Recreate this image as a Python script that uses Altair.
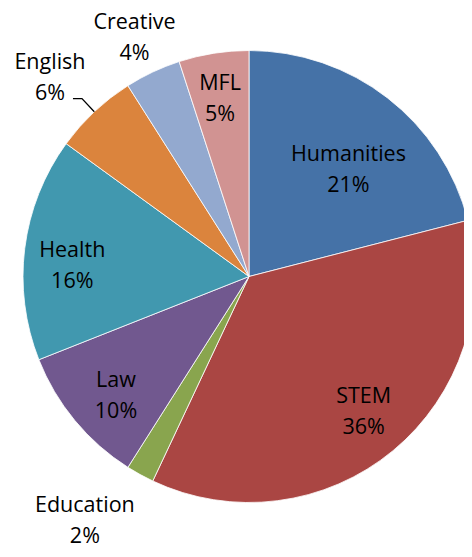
import math
import altair as alt
import pandas as pd

# ---- data ----
categories = ["Humanities", "STEM", "Education", "Law", "Health", "English", "Creative", "MFL"]
shares = [21, 36, 2, 10, 16, 6, 4, 5]
colors = ["#4572A7", "#AA4643", "#89A54E", "#71588F", "#4198AF", "#DB843D", "#93A9CF", "#D19392"]

# ---- layout (pixels) ----
CX, CY, R = 241, 268.5, 226
label_radius = {"Humanities": 145, "STEM": 178, "Education": 295, "Law": 179,
                "Health": 177, "English": 281, "Creative": 264, "MFL": 179}
label_nudge_deg = {"Humanities": 5.5, "STEM": -0.5, "Education": 5.0, "Law": -2.4,
                   "Health": -4.0, "English": -1.9, "Creative": -0.5, "MFL": -0.3}
LEADER_OUT = 18
LEADER_ELBOW = 9
FONT = "Open Sans"
FONT_SIZE = 21.5
LINE_H = 31

df = pd.DataFrame({"category": categories, "share": shares, "idx": list(range(len(categories)))})
total = df["share"].sum()
df["cum_end"] = df["share"].cumsum()
df["mid_deg"] = (df["cum_end"] - df["share"] / 2) / total * 360
df["label_deg"] = df["mid_deg"] + df["category"].map(label_nudge_deg)
df["label_r"] = df["category"].map(label_radius)
df["label"] = df["category"] + "\n" + df["share"].astype(str) + "%"

# leader line for English (outside label), derived from the slice's mid angle
eng = df[df["category"] == "English"].iloc[0]
a = math.radians(eng["mid_deg"])
p1 = (CX + R * math.sin(a), CY - R * math.cos(a))
p2 = (CX + (R + LEADER_OUT) * math.sin(a), CY - (R + LEADER_OUT) * math.cos(a))
p3 = (p2[0] - LEADER_ELBOW, p2[1])
leader = pd.DataFrame({"px": [p1[0], p2[0], p3[0]], "py": [p1[1], p2[1], p3[1]], "o": [0, 1, 2]})

color_scale = alt.Scale(domain=categories, range=colors)

pie = alt.Chart(df).mark_arc(outerRadius=R, stroke="white", strokeWidth=0.8).encode(
    theta=alt.Theta("share:Q", stack=True, scale=alt.Scale(domain=[0, 100], range=[0, 2 * math.pi])),
    order=alt.Order("idx:Q"),
    color=alt.Color("category:N", scale=color_scale, legend=None),
    x=alt.value(CX),
    y=alt.value(CY),
)

labels = alt.Chart(df).mark_text(
    font=FONT, fontSize=FONT_SIZE, lineBreak="\n", lineHeight=LINE_H,
    color="black", align="center", baseline="middle", dy=-LINE_H / 2,
).encode(
    theta=alt.Theta("label_deg:Q", stack=None, scale=alt.Scale(domain=[0, 360], range=[0, 2 * math.pi])),
    radius=alt.Radius("label_r:Q", scale=None),
    text="label:N",
    x=alt.value(CX),
    y=alt.value(CY),
)

lead = alt.Chart(leader).mark_line(color="black", strokeWidth=1.3).encode(
    x=alt.X("px:Q", scale=None),
    y=alt.Y("py:Q", scale=None),
    order=alt.Order("o:Q"),
)

chart = alt.layer(pie, lead, labels).resolve_scale(theta="independent").properties(
    width=456, height=540, padding=0, autosize=alt.AutoSizeParams(type="none")
).configure_view(stroke=None)

chart.save("out.html", embed_options={"renderer": "svg", "actions": False})
